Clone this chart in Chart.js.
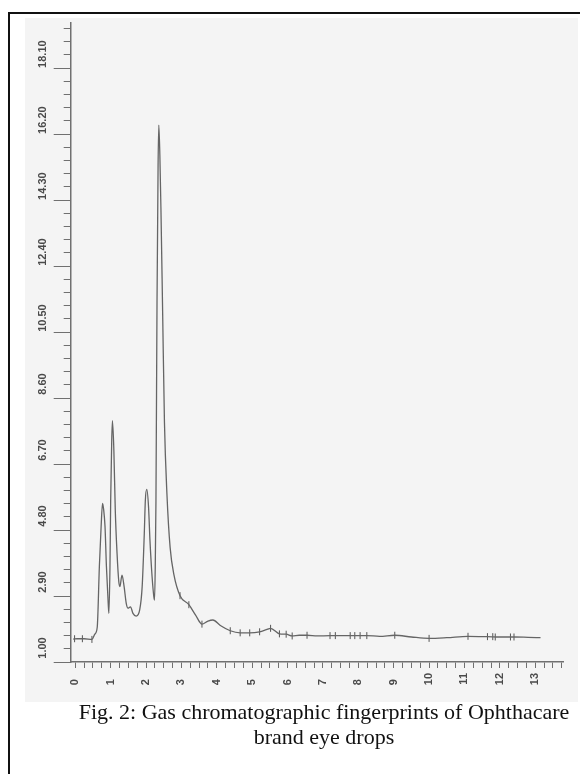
<!DOCTYPE html>
<html>
<head>
<meta charset="utf-8">
<title>Gas chromatographic fingerprints of Ophthacare</title>
<script src="https://cdn.jsdelivr.net/npm/chart.js@4.4.1/dist/chart.umd.min.js"></script>
<style>
html, body { margin: 0; padding: 0; background: #fff; }
#page { position: relative; width: 580px; height: 774px; overflow: hidden; }
#frame { position: absolute; left: 8px; top: 12px; width: 640px; height: 820px; border-left: 2px solid #111; border-top: 2px solid #111; }
#scan { position: absolute; left: 25px; top: 18px; width: 553px; height: 684px; background: #f4f4f4; }
#gc { position: absolute; left: 0; top: 0; }
#caption { position: absolute; left: 70px; width: 508px; top: 699px; text-align: center;
  font-family: "Liberation Serif", "Times New Roman", serif; font-size: 22px; line-height: 25px; color: #111; }
</style>
</head>
<body>
<div id="page">
  <div id="frame"></div>
  <div id="scan"></div>
  <canvas id="gc" width="580" height="774"></canvas>
  <div id="caption">Fig. 2: Gas chromatographic fingerprints of Ophthacare<br>brand eye drops</div>
</div>
<script>
// retention time (min) and detector signal
var retentionTimes = [-0.06, 0.05, 0.25, 0.47, 0.55, 0.62, 0.68, 0.73, 0.77, 0.80, 0.84, 0.88, 0.93, 0.95,
  0.98, 1.00, 1.03, 1.05, 1.09, 1.13, 1.18, 1.23, 1.26, 1.32, 1.38, 1.44, 1.49, 1.56, 1.63, 1.72,
  1.82, 1.89, 1.95, 1.98, 2.02, 2.07, 2.11, 2.17, 2.22, 2.24, 2.26, 2.28, 2.31, 2.34, 2.36, 2.39,
  2.42, 2.47, 2.52, 2.59, 2.68, 2.79, 2.96, 3.21, 3.40, 3.58, 3.75, 3.89, 4.10, 4.38, 4.66, 4.93,
  5.21, 5.40, 5.52, 5.77, 5.96, 6.13, 6.33, 6.55, 6.84, 7.20, 7.80, 8.24, 8.60, 9.03, 9.50, 10.00,
  10.50, 11.10, 11.65, 12.00, 12.40, 12.80, 13.15];
var signal = [1.66, 1.67, 1.67, 1.65, 1.80, 2.00, 3.74, 4.90, 5.57, 5.40, 4.90, 3.74, 2.69, 2.40,
  3.74, 5.66, 7.39, 7.95, 7.10, 5.37, 4.13, 3.31, 3.17, 3.50, 3.17, 2.69, 2.55, 2.59, 2.40, 2.32,
  2.50, 3.17, 4.70, 5.66, 5.97, 5.47, 4.51, 3.46, 2.88, 2.78, 3.74, 5.66, 11.40, 15.30, 16.46, 15.60,
  14.09, 10.99, 7.90, 5.84, 4.30, 3.50, 2.91, 2.65, 2.35, 2.09, 2.18, 2.21, 2.05, 1.90, 1.84, 1.84,
  1.87, 1.93, 1.97, 1.81, 1.80, 1.75, 1.77, 1.77, 1.75, 1.76, 1.76, 1.76, 1.74, 1.77, 1.72, 1.68,
  1.70, 1.74, 1.73, 1.72, 1.72, 1.71, 1.70];

// integration marks on the trace
var markTimes = [-0.02, 0.20, 0.47, 2.96, 3.21, 3.58, 4.38, 4.66, 4.93, 5.21, 5.52, 5.77, 5.96, 6.13,
  6.55, 7.20, 7.35, 7.77, 7.90, 8.05, 8.24, 9.03, 10.00, 11.10, 11.65, 11.80, 11.87, 12.30, 12.40];
var markSignal = [1.67, 1.67, 1.65, 2.91, 2.65, 2.09, 1.90, 1.84, 1.84, 1.87, 1.97, 1.81, 1.80, 1.75,
  1.77, 1.76, 1.76, 1.76, 1.76, 1.76, 1.76, 1.77, 1.68, 1.74, 1.73, 1.73, 1.72, 1.72, 1.72];

var yTickLabels = ['1.00', '2.90', '4.80', '6.70', '8.60', '10.50', '12.40', '14.30', '16.20', '18.10'];
var xTickLabels = ['0', '1', '2', '3', '4', '5', '6', '7', '8', '9', '10', '11', '12', '13'];

// minor tick positions: 4 between y labels, quarters of a minute on x
var yTicks = [];
for (var i = 0; i <= 48; i++) yTicks.push({ value: 1 + i * 0.38 });
var xTicks = [];
for (var q = 0; q <= 55; q++) xTicks.push({ value: q * 0.25 });

var axisColor = '#707070';
var labelFont = { family: 'Liberation Sans, Arial, sans-serif', size: 11, weight: 'bold' };

var ctx = document.getElementById('gc').getContext('2d');

var graphic = new Chart(ctx, {
    type: 'line',
    data: {
        datasets: [{
            data: retentionTimes.map(function (t, i) { return { x: t, y: signal[i] }; }),
            borderColor: '#656565',
            borderWidth: 1.3,
            pointRadius: 0,
            cubicInterpolationMode: 'monotone',
            fill: false
        }, {
            data: markTimes.map(function (t, i) { return { x: t, y: markSignal[i] }; }),
            showLine: false,
            pointStyle: 'line',
            rotation: 90,
            pointRadius: 3.5,
            borderColor: '#555',
            pointBorderWidth: 1
        }]
    },
    options: {
        responsive: false,
        animation: false,
        devicePixelRatio: 1,
        layout: { padding: { left: 30.7, right: 11, top: 23, bottom: 82 } },
        plugins: { legend: { display: false }, tooltip: { enabled: false } },
        scales: {
            x: {
                type: 'linear',
                min: -0.13,
                max: 13.8,
                afterBuildTicks: function (s) { s.ticks = xTicks.slice(); },
                afterFit: function (s) { s.height = 30; },
                ticks: {
                    autoSkip: false,
                    minRotation: 90,
                    maxRotation: 90,
                    padding: 5,
                    color: '#4a4a4a',
                    font: labelFont,
                    // figure space keeps one-digit labels starting level with two-digit ones
                    callback: function (v) {
                        if (!Number.isInteger(v)) return '';
                        var s = xTickLabels[v];
                        return s.length === 1 ? s + '\u2007' : s;
                    }
                },
                grid: { drawOnChartArea: false, tickLength: 6, tickColor: axisColor, tickWidth: 1 },
                border: { color: axisColor, width: 1.5 }
            },
            y: {
                type: 'linear',
                min: 1,
                max: 19.4,
                afterBuildTicks: function (s) { s.ticks = yTicks.slice(); },
                afterFit: function (s) { s.width = 40; },
                ticks: {
                    autoSkip: false,
                    minRotation: 90,
                    maxRotation: 90,
                    crossAlign: 'center',
                    padding: -3,
                    labelOffset: -14,
                    color: '#4a4a4a',
                    font: labelFont,
                    callback: function (v, index) { return index % 5 === 0 ? yTickLabels[index / 5] : ''; }
                },
                grid: {
                    drawOnChartArea: false,
                    tickLength: 17,
                    tickColor: axisColor,
                    tickWidth: 1,
                    // tick marks run from the outer end inwards: keep only the 7px next to the axis on minor ticks
                    tickBorderDash: function (c) { return c.index % 5 === 0 ? [] : [0, 10, 7, 100]; }
                },
                border: { color: axisColor, width: 1.5 }
            }
        }
    }
});
</script>
</body>
</html>
